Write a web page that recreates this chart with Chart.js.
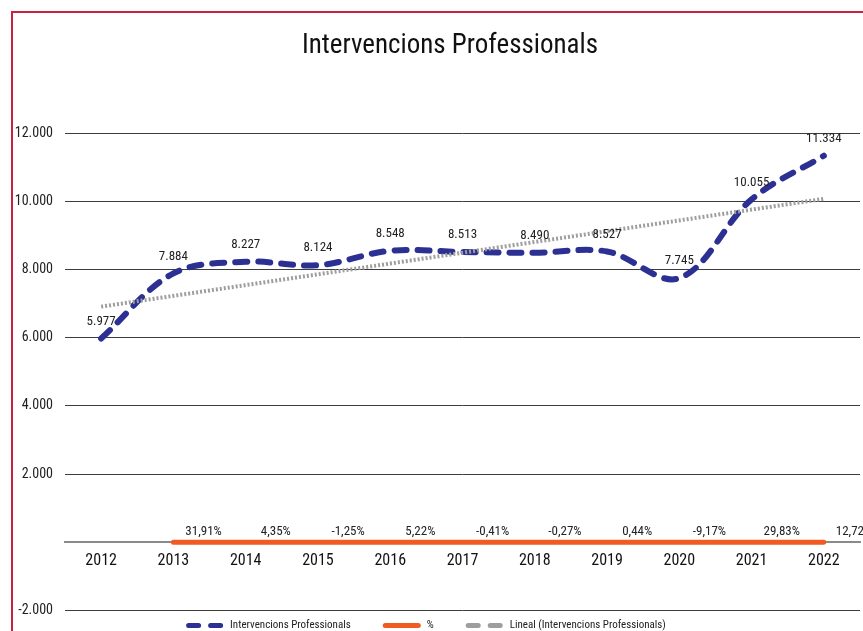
<!DOCTYPE html>
<html>
<head>
<meta charset="utf-8">
<script src="https://cdn.jsdelivr.net/npm/chart.js@4/dist/chart.umd.min.js"></script>
<style>
  html, body { margin: 0; padding: 0; background: #fff; overflow: hidden; }
  #frame {
    position: absolute;
    left: 11px;
    top: 11px;
    width: 900px;
    height: 660px;
    border: 2px solid #c8203f;
  }
  #chart { display: block; }
</style>
</head>
<body>
<div id="frame">
  <canvas id="chart" width="850" height="618"></canvas>
</div>
<script>
// Data
const years = ['2012', '2013', '2014', '2015', '2016', '2017', '2018', '2019', '2020', '2021', '2022'];
const interventions = [5977, 7884, 8227, 8124, 8548, 8513, 8490, 8527, 7745, 10055, 11334];
// year-on-year change (as fraction), first year has none
const pctChange = [null, 0.3191, 0.0435, -0.0125, 0.0522, -0.0041, -0.0027, 0.0044, -0.0917, 0.2983, 0.1272];
// linear trend line, only its two ends as drawn
const trendLine = [6910, null, null, null, null, null, null, null, null, null, 10070];
const yTicks = [-2000, 0, 2000, 4000, 6000, 8000, 10000, 12000];

const TITLE = 'Intervencions Professionals';
const FONT = '"Roboto Condensed", "DejaVu Sans Condensed", sans-serif';
const NAVY = '#2b3092';
const ORANGE = '#f15a22';
const GREY = '#9e9e9e';

function thousands(n) {
  return n.toString().replace(/\B(?=(\d{3})+(?!\d))/g, '.');
}
function percent(v) {
  return (v * 100).toFixed(2).replace('.', ',') + '%';
}

// Value labels above the line and the % labels between the years
const labelsPlugin = {
  id: 'valueLabels',
  afterDatasetsDraw(chart) {
    const c = chart.ctx;
    const xs = chart.scales.x;
    const half = (xs.getPixelForValue(1) - xs.getPixelForValue(0)) / 2;
    c.save();
    c.font = '13px ' + FONT;
    c.fillStyle = '#222';
    c.textAlign = 'center';
    c.textBaseline = 'middle';
    chart.getDatasetMeta(0).data.forEach((pt, i) => {
      c.fillText(thousands(interventions[i]), pt.x, pt.y - 17);
    });
    chart.getDatasetMeta(1).data.forEach((pt, i) => {
      if (pctChange[i] === null) return;
      c.fillText(percent(pctChange[i]), pt.x + half - 6, pt.y - 11);
    });
    c.restore();
  }
};

// Title and Excel-like legend, drawn on the canvas
const frameTextPlugin = {
  id: 'frameText',
  afterDraw(chart) {
    const c = chart.ctx;
    c.save();
    c.font = '27px ' + FONT;
    c.fillStyle = '#111';
    c.textAlign = 'center';
    c.textBaseline = 'alphabetic';
    c.fillText(TITLE, 437, 40);

    const items = [
      { text: 'Intervencions Professionals', color: NAVY, dash: [10, 12] },
      { text: '%', color: ORANGE, dash: [] },
      { text: 'Lineal (Intervencions Professionals)', color: GREY, dash: [10, 12] }
    ];
    const sym = 38, gap = 6, spacing = 32;
    c.font = '11px ' + FONT;
    let total = 0;
    items.forEach((it, i) => {
      it.w = c.measureText(it.text).width;
      total += sym + gap + it.w + (i ? spacing : 0);
    });
    let x = 413 - total / 2;
    const y = chart.chartArea.bottom + 15;
    items.forEach(it => {
      c.strokeStyle = it.color;
      c.lineWidth = 5;
      c.lineCap = 'round';
      c.setLineDash(it.dash);
      c.beginPath();
      c.moveTo(x + 2.5, y);
      c.lineTo(x + sym - 2.5, y);
      c.stroke();
      c.setLineDash([]);
      c.fillStyle = '#222';
      c.textAlign = 'left';
      c.textBaseline = 'middle';
      c.fillText(it.text, x + sym + gap, y);
      x += sym + gap + it.w + spacing;
    });
    c.restore();
  }
};

const ctx = document.getElementById('chart').getContext('2d');

new Chart(ctx, {
  type: 'line',
  data: {
    labels: years,
    datasets: [
      {
        label: 'Intervencions Professionals',
        data: interventions,
        borderColor: NAVY,
        backgroundColor: NAVY,
        borderWidth: 6,
        borderDash: [12, 11],
        borderCapStyle: 'round',
        tension: 0.35,
        pointRadius: 0,
        order: 1
      },
      {
        label: '%',
        data: pctChange,
        borderColor: ORANGE,
        backgroundColor: ORANGE,
        borderWidth: 5,
        borderCapStyle: 'round',
        pointRadius: 0,
        order: 2
      },
      {
        label: 'Lineal (Intervencions Professionals)',
        data: trendLine,
        spanGaps: true,
        borderColor: GREY,
        backgroundColor: GREY,
        borderWidth: 4,
        borderDash: [2, 2],
        pointRadius: 0,
        order: 0
      }
    ]
  },
  options: {
    responsive: false,
    animation: false,
    events: [],
    layout: {
      padding: { left: 0, right: 3, top: 120, bottom: 19 }
    },
    plugins: {
      legend: { display: false },
      tooltip: { enabled: false },
      title: { display: false }
    },
    scales: {
      x: {
        type: 'category',
        position: { y: 0 },
        offset: true,
        grid: { display: false, drawTicks: false },
        border: { display: true, color: '#8a8a8a', width: 2 },
        ticks: {
          color: '#111',
          font: { family: FONT, size: 16 },
          padding: 9,
          maxRotation: 0
        }
      },
      y: {
        min: -2000,
        max: 12000,
        afterBuildTicks: axis => {
          axis.ticks = yTicks.map(v => ({ value: v }));
        },
        afterFit: axis => {
          axis.width = 52;
        },
        grid: { color: '#3c3c3c', lineWidth: 1, drawTicks: false },
        border: { display: false },
        ticks: {
          color: '#222',
          font: { family: FONT, size: 14 },
          padding: 12,
          // the 0 label is left out, the category axis sits there
          callback: v => (v === 0 ? '' : thousands(v))
        }
      }
    }
  },
  plugins: [labelsPlugin, frameTextPlugin]
});
</script>
</body>
</html>
